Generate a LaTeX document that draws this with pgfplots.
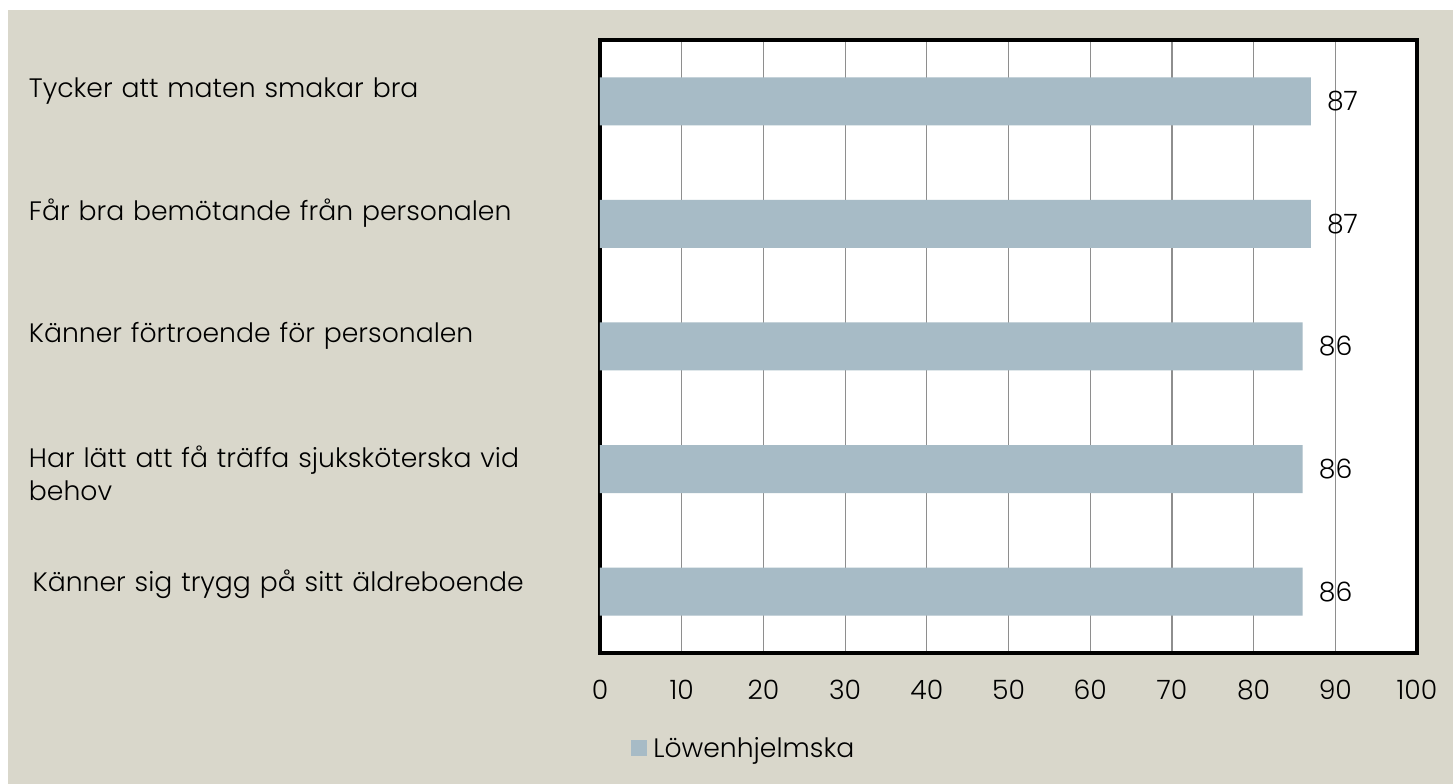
\documentclass[border=0pt]{standalone}
\usepackage{pgfplots}
\pgfplotsset{compat=1.18}
\usepackage{fontspec}
\setmainfont{Poppins}[UprightFont=* Light]
\definecolor{bgbeige}{HTML}{D9D7CB}
\definecolor{barcol}{HTML}{A7BBC6}
\definecolor{gridcol}{HTML}{8E8E8E}
\begin{document}
\begin{tikzpicture}
\fill[white] (0pt,0pt) rectangle (1089.75pt,588pt);
\fill[bgbeige] (6pt,0pt) rectangle (1089.75pt,580.5pt);
\begin{axis}[
  at={(450pt,98.25pt)}, anchor=south west,
  scale only axis,
  width=612.75pt, height=459.75pt,
  xmin=0, xmax=100, ymin=-0.5, ymax=4.5,
  xbar, bar width=36pt,
  axis background/.style={fill=white},
  axis line style={line width=2.6pt, black},
  xtick={0,10,...,100},
  xmajorgrids, grid style={gridcol, line width=0.9pt},
  major tick length=0pt,
  ytick={2,3,4},
  yticklabels={Känner förtroende för personalen,
    Får bra bemötande från personalen,
    Tycker att maten smakar bra},
  extra y ticks={0,1},
  extra y tick labels={\hspace*{2.8pt}\raisebox{3pt}[0pt][0pt]{Känner sig trygg på sitt äldreboende},Har lätt att få träffa sjuksköterska vid\\behov},
  extra y tick style={yticklabel style={yshift=-11pt}, grid=none},
  yticklabel style={anchor=west, inner sep=0pt, text width=420pt, align=left,
    xshift=-428.5pt, yshift=8pt, font=\fontsize{20}{24.75}\selectfont},
  xticklabel style={anchor=center, inner sep=0pt, yshift=-27.75pt, font=\fontsize{20}{24}\selectfont},
  /pgf/number format/assume math mode=true,
  nodes near coords,
  every node near coord/.append style={anchor=west, inner sep=0pt, xshift=12pt, black, font=\fontsize{20}{24}\selectfont},
  legend style={at={(0.038,-0.155)}, anchor=west, draw=none, fill=none,
    inner sep=0pt, column sep=4.5pt, font=\fontsize{20}{24}\selectfont,
    nodes={inner sep=0pt}},
  legend image code/.code={\fill[barcol] (0pt,-6pt) rectangle (12pt,6pt);},
  clip=false,
]
\addplot[fill=barcol, draw=none] coordinates {(86,0) (86,1) (86,2) (87,3) (87,4)};
\addlegendentry{Löwenhjelmska}
\end{axis}
\end{tikzpicture}
\end{document}
